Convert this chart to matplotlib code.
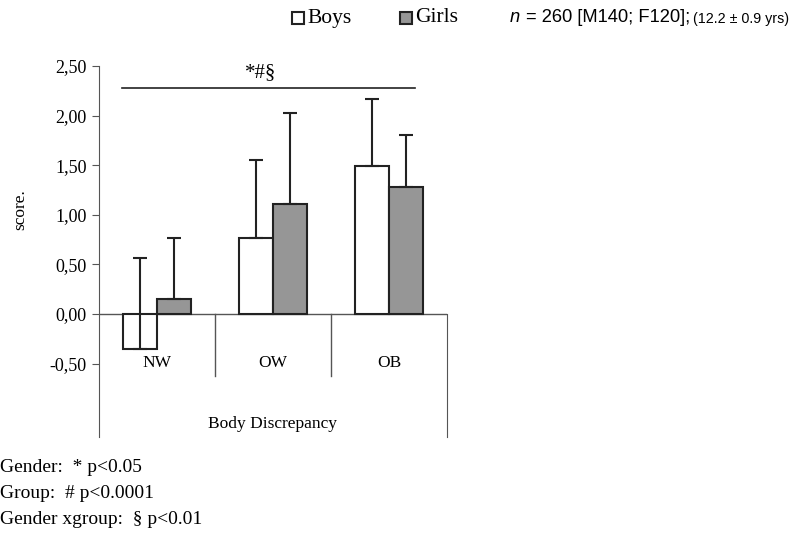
import numpy as np
import matplotlib.pyplot as plt
from matplotlib.patches import Rectangle

groups = ['NW', 'OW', 'OB']
boys = [-0.35, 0.77, 1.49]
girls = [0.15, 1.11, 1.28]
boys_sd = [0.91, 0.78, 0.68]
girls_sd = [0.62, 0.92, 0.52]
yticks = [-0.5, 0.0, 0.5, 1.0, 1.5, 2.0, 2.5]

serif = 'Liberation Serif'
sans = 'Liberation Sans'

fig = plt.figure(figsize=(7.94, 5.37), dpi=100)
W, H = 794, 537
ax = fig.add_axes([99 / W, 1 - 437 / H, (447 - 99) / W, (437 - 66) / H])

x = np.arange(len(groups))
w = 0.29
ax.bar(x - w / 2, boys, w, color='white', edgecolor='#222222', linewidth=1.5, zorder=2)
ax.bar(x + w / 2, girls, w, color='#969696', edgecolor='#222222', linewidth=1.5, zorder=2)
z = np.zeros(len(groups))
ax.errorbar(x - w / 2, boys, yerr=[z, boys_sd], fmt='none', ecolor='#222222',
            elinewidth=1.5, capsize=5, capthick=1.5, zorder=3)
ax.errorbar(x + w / 2, girls, yerr=[z, girls_sd], fmt='none', ecolor='#222222',
            elinewidth=1.5, capsize=5, capthick=1.5, zorder=3)

ymin = -1.24
ax.set_xlim(-0.5, len(groups) - 0.5)
ax.set_ylim(ymin, 2.5)

for s in ['top', 'bottom']:
    ax.spines[s].set_visible(False)
ax.spines['left'].set_color('#555555')
ax.spines['right'].set_color('#555555')
ax.spines['right'].set_bounds(ymin, 0)
ax.axhline(0, color='#555555', lw=1, zorder=1)
for b in np.arange(0.5, len(groups) - 0.5, 1.0):
    ax.plot([b, b], [0, -0.625], color='#555555', lw=1, zorder=1)

ax.set_xticks([])
ax.set_yticks(yticks)
ax.set_yticklabels([f'{v:.2f}'.replace('.', ',') for v in yticks], fontfamily=serif, fontsize=13)
ax.tick_params(axis='y', direction='out', length=5, color='#555555', pad=4)

for i, g in enumerate(groups):
    ax.text(i, -0.49, g, ha='center', va='center', fontfamily=serif, fontsize=12.5)
ax.text(1, -1.11, 'Body Discrepancy', ha='center', va='center', fontfamily=serif, fontsize=12.5)

ax.plot([-0.3, 2.22], [2.275, 2.275], color='#222222', lw=1.2, clip_on=False)
ax.text(0.89, 2.43, '*#§', ha='center', va='center', fontfamily=serif, fontsize=15)

fig.text(20 / W, 1 - 210 / H, 'score.', rotation=90, ha='center', va='center',
         fontfamily=serif, fontsize=12.5)

# legend
fig.patches.append(Rectangle((292 / W, 1 - 24 / H), 12 / W, 12 / H, transform=fig.transFigure,
                             facecolor='white', edgecolor='#222222', lw=1.5))
fig.text(307 / W, 1 - 18 / H, 'Boys', ha='left', va='center', fontfamily=serif, fontsize=15.5)
fig.patches.append(Rectangle((400 / W, 1 - 24 / H), 12 / W, 12 / H, transform=fig.transFigure,
                             facecolor='#969696', edgecolor='#222222', lw=1.5))
fig.text(415 / W, 1 - 18 / H, 'Girls', ha='left', va='center', fontfamily=serif, fontsize=15.5)

fig.text(510 / W, 1 - 18 / H, 'n', style='italic', ha='left', va='center', fontfamily=sans, fontsize=13.2)
fig.text(526 / W, 1 - 18 / H, '= 260 [M140; F120];', ha='left', va='center', fontfamily=sans, fontsize=13.2)
fig.text(693 / W, 1 - 19 / H, '(12.2 ± 0.9 yrs)', ha='left', va='center', fontfamily=sans, fontsize=10.3)

notes = ['Gender:  * p<0.05', 'Group:  # p<0.0001', 'Gender xgroup:  § p<0.01']
for k, t in enumerate(notes):
    fig.text(0, 1 - (468 + 25.5 * k) / H, t, ha='left', va='center', fontfamily=serif, fontsize=14)

fig.savefig('out.png', dpi=100)
